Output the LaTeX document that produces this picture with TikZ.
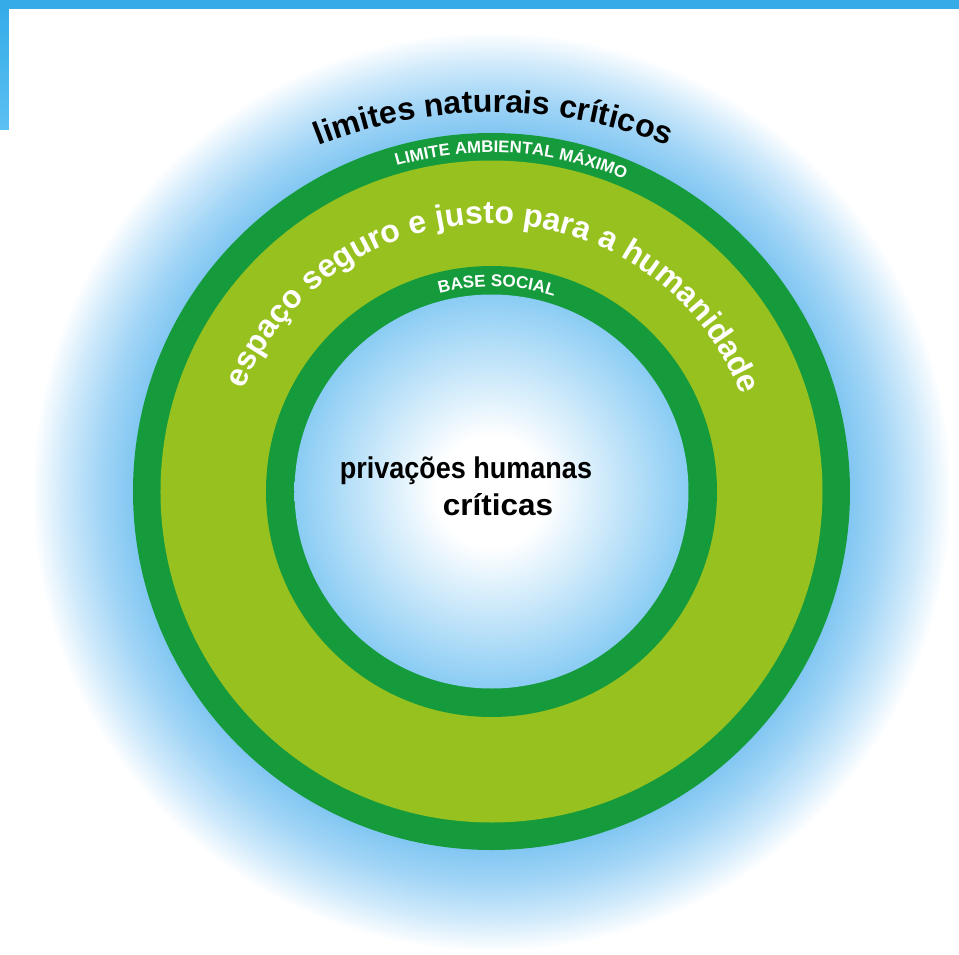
\documentclass[tikz,border=0pt]{standalone}
\usepackage{fontspec}
\setmainfont{Liberation Sans}
\usetikzlibrary{decorations.text}
\definecolor{darkgreen}{RGB}{22,155,60}
\definecolor{lightgreen}{RGB}{151,193,31}
\definecolor{barblue}{RGB}{53,172,232}
\definecolor{barblue2}{RGB}{92,192,242}
\definecolor{glowblue}{RGB}{128,198,242}
\definecolor{glowmid}{RGB}{162,213,246}
\definecolor{glowpale}{RGB}{208,234,251}
\definecolor{holeblue}{RGB}{138,204,244}
\pgfdeclareradialshading{glowshade}{\pgfpoint{0bp}{0bp}}{color(0bp)=(glowblue); color(19.4bp)=(glowblue); color(21.3bp)=(glowmid); color(23.3bp)=(glowpale); color(25bp)=(white); color(50bp)=(white)}
\pgfdeclareradialshading{holeshade}{\pgfpoint{0bp}{0bp}}{color(0bp)=(white); color(7bp)=(white); color(25bp)=(holeblue); color(50bp)=(holeblue)}
\tikzset{
  curvetext/.style={decorate, decoration={text along path, text align=center, text color=#1}},
  centretext/.style={anchor=base, inner sep=0pt, font=\fontsize{30}{30}\selectfont\bfseries},
}
\begin{document}
\begin{tikzpicture}[x=1pt,y=1pt]
\useasboundingbox (-491.5,-462.5) rectangle (467.5,491.5);
\fill[white] (-491.5,-462.5) rectangle (467.5,491.5);
% glow
\shade[shading=glowshade] (0,0) circle[radius=460];
% bars
\fill[barblue] (-491.5,482.5) rectangle (467.5,491.5);
\shade[top color=barblue, bottom color=barblue2] (-491.5,361.5) rectangle (-482.5,482.5);
% rings
\fill[darkgreen] (0,0) circle[radius=358.5];
\fill[lightgreen] (0,0) circle[radius=331];
\fill[darkgreen] (0,0) circle[radius=225.5];
\shade[shading=holeshade] (0,0) circle[radius=197];
% curved labels
\path[curvetext=black, decoration={text={|\fontsize{32}{32}\selectfont\bfseries|limites naturais críticos}}]
  (2,-101) ++(125:480) arc[start angle=125, end angle=55, radius=480];
\path[curvetext=white, decoration={text={|\fontsize{16.8}{16.8}\selectfont\bfseries|LIMITE AMBIENTAL MÁXIMO}}]
  (0,0) ++(126.6:339) arc[start angle=126.6, end angle=46.6, radius=339];
\path[curvetext=white, decoration={text={|\fontsize{32}{32}\selectfont\bfseries|espaço seguro e justo para a humanidade}}]
  (0,0) ++(169.3:268) arc[start angle=169.3, end angle=9.3, radius=268];
\path[curvetext=white, decoration={text={|\fontsize{17}{17}\selectfont\bfseries|BASE SOCIAL}}]
  (0,0) ++(138.5:205) arc[start angle=138.5, end angle=38.5, radius=205];
% centre text
\node[centretext, xscale=0.9] (line1) at (-25.5,13.5) {privações humanas};
\node[centretext, xscale=1.05] (line2) at (6.5,-23.5) {críticas};
\end{tikzpicture}
\end{document}
